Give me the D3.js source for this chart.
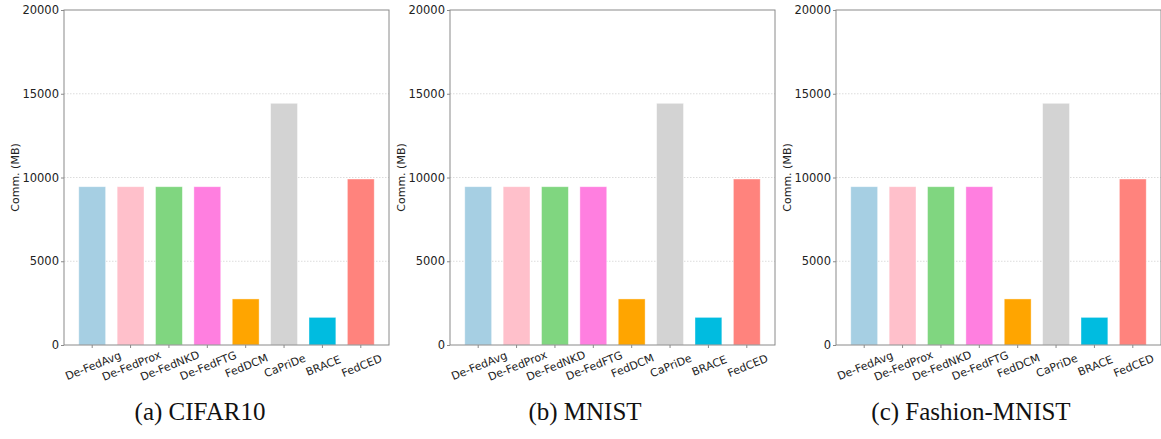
<!DOCTYPE html>
<html>
<head>
<meta charset="utf-8">
<script src="https://cdn.jsdelivr.net/npm/d3@7"></script>
<style>
  body { margin: 0; background: #fff; }
  svg { display: block; }
</style>
</head>
<body>
<div id="chart"></div>
<script>
var methods = ["De-FedAvg", "De-FedProx", "De-FedNKD", "De-FedFTG", "FedDCM", "CaPriDe", "BRACE", "FedCED"];
var colors = ["#a6cfe3", "#ffc0cb", "#80d680", "#ff7fe0", "#ffa500", "#d3d3d3", "#00bce0", "#ff837d"];
var commCifar = [9450, 9450, 9450, 9450, 2750, 14430, 1650, 9910];
var commMnist = [9450, 9450, 9450, 9450, 2750, 14430, 1650, 9910];
var commFashion = [9450, 9450, 9450, 9450, 2750, 14430, 1650, 9910];
var captions = ["(a) CIFAR10", "(b) MNIST", "(c) Fashion-MNIST"];
var yTicks = [0, 5000, 10000, 15000, 20000];

var width = 1161;
var height = 439;

var panels = [
  { values: commCifar, left: 64, captionX: 200 },
  { values: commMnist, left: 450, captionX: 585 },
  { values: commFashion, left: 836, captionX: 971 }
];

var plotW = 325;
var plotTop = 10;
var plotBottom = 345;
var sans = "'DejaVu Sans', sans-serif";

var svg = d3
  .select("#chart")
  .append("svg")
  .attr("width", width)
  .attr("height", height);

var y = d3.scaleLinear().domain([0, 20000]).range([plotBottom, plotTop]);

panels.forEach(function (p, i) {
  var x = d3
    .scaleBand()
    .domain(methods)
    .range([p.left, p.left + plotW])
    .paddingInner(0.3)
    .paddingOuter(0.385);

  var g = svg.append("g");

  // dotted grid
  g.selectAll("line.grid")
    .data(yTicks.slice(1, 4))
    .enter()
    .append("line")
    .attr("class", "grid")
    .attr("x1", p.left)
    .attr("x2", p.left + plotW)
    .attr("y1", function (d) { return y(d); })
    .attr("y2", function (d) { return y(d); })
    .attr("stroke", "#dcdcdc")
    .attr("stroke-width", 1)
    .attr("stroke-dasharray", "1.5,1.5");

  g.selectAll("rect.bar")
    .data(p.values)
    .enter()
    .append("rect")
    .attr("class", "bar")
    .attr("x", function (d, j) { return x(methods[j]); })
    .attr("y", function (d) { return y(d); })
    .attr("width", x.bandwidth())
    .attr("height", function (d) { return y(0) - y(d); })
    .attr("fill", function (d, j) { return colors[j]; })
    .attr("stroke", "#fff")
    .attr("stroke-opacity", 0.5)
    .attr("stroke-width", 0.8);

  // frame
  g.append("rect")
    .attr("x", p.left)
    .attr("y", plotTop)
    .attr("width", plotW)
    .attr("height", plotBottom - plotTop)
    .attr("fill", "none")
    .attr("stroke", "#8a8a8a")
    .attr("stroke-width", 1);

  var yAxis = g
    .append("g")
    .attr("transform", "translate(" + p.left + ",0)")
    .call(d3.axisLeft(y).tickValues(yTicks).tickSize(3).tickPadding(2).tickFormat(d3.format("d")));
  yAxis.select(".domain").remove();
  yAxis.selectAll(".tick line").attr("stroke", "#8a8a8a");
  yAxis.selectAll(".tick text")
    .attr("font-family", sans)
    .attr("font-size", "11.5px")
    .attr("fill", "#222");

  var xAxis = g
    .append("g")
    .attr("transform", "translate(0," + plotBottom + ")")
    .call(d3.axisBottom(x).tickSize(3).tickFormat(""));
  xAxis.select(".domain").remove();
  xAxis.selectAll(".tick line").attr("stroke", "#8a8a8a");

  g.selectAll("text.xlab")
    .data(methods)
    .enter()
    .append("text")
    .attr("class", "xlab")
    .attr("transform", function (d) {
      return "translate(" + (x(d) + x.bandwidth() / 2 + 1) + "," + (plotBottom + 21) + ") rotate(-22)";
    })
    .attr("text-anchor", "middle")
    .attr("dominant-baseline", "central")
    .attr("font-family", sans)
    .attr("font-size", "11px")
    .attr("fill", "#222")
    .text(function (d) { return d; });

  g.append("text")
    .attr("transform", "translate(" + (p.left - 49) + "," + (plotTop + plotBottom) / 2 + ") rotate(-90)")
    .attr("text-anchor", "middle")
    .attr("dominant-baseline", "central")
    .attr("font-family", sans)
    .attr("font-size", "11px")
    .attr("fill", "#222")
    .text("Comm. (MB)");

  g.append("text")
    .attr("x", p.captionX)
    .attr("y", 420)
    .attr("text-anchor", "middle")
    .attr("font-family", "'Liberation Serif', 'Times New Roman', serif")
    .attr("font-size", "25px")
    .attr("fill", "#111")
    .text(captions[i]);
});
</script>
</body>
</html>
